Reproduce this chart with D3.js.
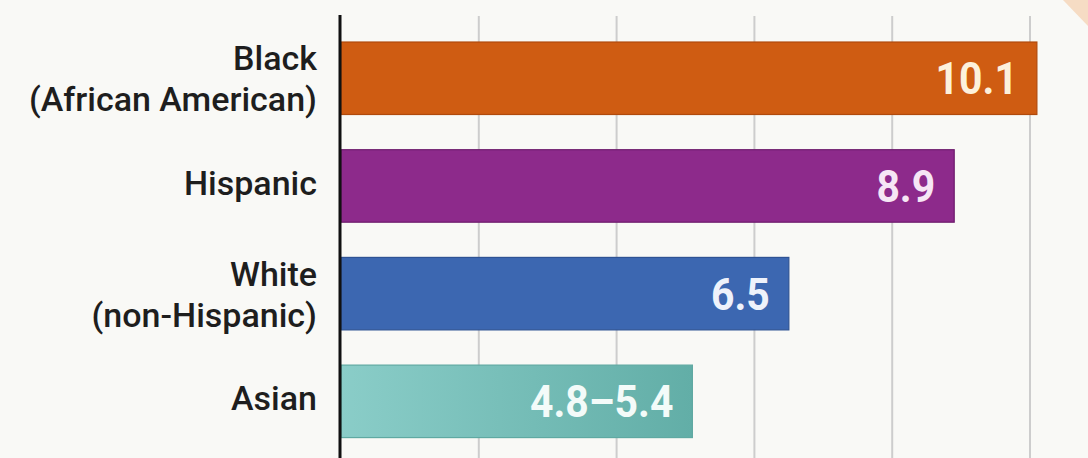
<!DOCTYPE html>
<html>
<head>
<meta charset="utf-8">
<script src="https://cdn.jsdelivr.net/npm/d3@7"></script>
<style>
  html, body { margin: 0; padding: 0; background: #f9f9f6; }
  svg { display: block; }
</style>
</head>
<body>
<svg id="chart" width="1088" height="458"></svg>
<script>
// ---- data ----
const categories = [["Black", "(African American)"], ["Hispanic"], ["White", "(non-Hispanic)"], ["Asian"]];
const values = [10.1, 8.9, 6.5, 5.1];
const valueLabels = ["10.1", "8.9", "6.5", "4.8\u20135.4"];
const tickValues = [2, 4, 6, 8, 10];
const barColors = ["#cf5c12", "#8d2a8b", "#3c67b1", "url(#tealGrad)"];
const barStrokes = ["#b04a0c", "#6e1c6d", "#2f5394", "#5fa9a2"];
const labelColors = ["#fdf1dc", "#f6e6f5", "#eef2fb", "#f3fbf9"];

const W = 1088, H = 458;
const svg = d3.select("#chart");

// background
svg.append("rect").attr("width", W).attr("height", H).attr("fill", "#f9f9f6");
svg.append("polygon")
  .attr("points", "1063,0 1088,0 1088,26")
  .attr("fill", "#f6dcc4");

const defs = svg.append("defs");
const g1 = defs.append("linearGradient").attr("id", "tealGrad").attr("x1", "0").attr("x2", "1").attr("y1", "0").attr("y2", "0");
g1.append("stop").attr("offset", "0%").attr("stop-color", "#8acdc8");
g1.append("stop").attr("offset", "100%").attr("stop-color", "#62aea7");

const keys = categories.map(c => c.join(" "));
const x = d3.scaleLinear().domain([0, 10]).range([341, 1030]);
const y = d3.scaleBand().domain(keys).range([6.8, 472.8]).padding(0.327);

// gridlines
svg.append("g").selectAll("line").data(tickValues).join("line")
  .attr("x1", d => x(d)).attr("x2", d => x(d))
  .attr("y1", 16).attr("y2", H)
  .attr("stroke", "#cdcdcd").attr("stroke-width", 2);

// bars
svg.append("g").selectAll("rect").data(values).join("rect")
  .attr("x", x(0))
  .attr("y", (d, i) => y(keys[i]))
  .attr("width", d => x(d) - x(0))
  .attr("height", y.bandwidth())
  .attr("fill", (d, i) => barColors[i])
  .attr("stroke", (d, i) => barStrokes[i])
  .attr("stroke-width", 1.2);

// axis line
svg.append("line")
  .attr("x1", 340).attr("x2", 340).attr("y1", 15).attr("y2", H)
  .attr("stroke", "#111").attr("stroke-width", 3);

// category labels
const lab = svg.append("g")
  .attr("font-family", "Roboto, 'Noto Sans', sans-serif")
  .attr("font-size", 34).attr("font-weight", 500).attr("fill", "#1e1e1e")
  .attr("text-anchor", "end");
categories.forEach((lines, i) => {
  const cy = y(keys[i]) + y.bandwidth() / 2;
  const t = lab.append("text").attr("x", 317);
  if (lines.length === 1) {
    t.append("tspan").attr("x", 317).attr("y", cy + 9).text(lines[0]);
  } else {
    t.append("tspan").attr("x", 317).attr("y", cy - 8).text(lines[0]);
    t.append("tspan").attr("x", 317).attr("y", cy + 33).text(lines[1]);
  }
});

// value labels
svg.append("g").selectAll("text").data(values).join("text")
  .attr("transform", (d, i) => `translate(${x(d) - 19},${y(keys[i]) + y.bandwidth() / 2 + 16}) scale(0.93,1)`)
  .attr("text-anchor", "end")
  .attr("font-family", "Roboto, 'Noto Sans', sans-serif")
  .attr("font-size", 44).attr("font-weight", 700)
  .attr("fill", (d, i) => labelColors[i])
  .text((d, i) => valueLabels[i]);
</script>
</body>
</html>
